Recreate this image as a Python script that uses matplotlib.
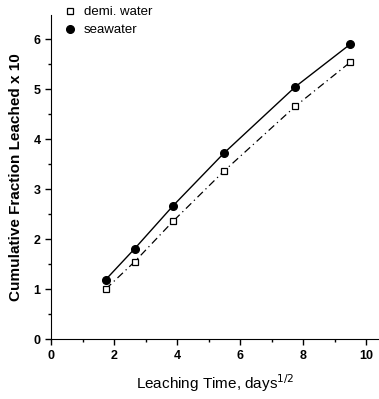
import matplotlib
matplotlib.use("Agg")
import matplotlib.pyplot as plt
from matplotlib.ticker import MultipleLocator

plt.rcParams['font.family'] = ['Liberation Sans', 'DejaVu Sans']

# sqrt of leaching time (days^1/2)
time_sqrt = [1.73, 2.65, 3.87, 5.48, 7.75, 9.49]
demi_water = [1.00, 1.55, 2.36, 3.36, 4.66, 5.54]
seawater = [1.19, 1.81, 2.67, 3.72, 5.05, 5.90]

fig = plt.figure(figsize=(3.79, 3.99), dpi=100)
ax = fig.add_axes([0.135, 0.150, 0.865, 0.812])

ax.plot(time_sqrt, demi_water, color='black', lw=0.9, ls=(0, (6, 3, 1, 3)))
ax.plot(time_sqrt, seawater, color='black', lw=1.0, ls='-')
ax.plot(time_sqrt, demi_water, 's', ms=4.5, mfc='white', mec='black', mew=0.9,
        ls='none', label='demi. water')
ax.plot(time_sqrt, seawater, 'o', ms=5.5, color='black', ls='none', label='seawater')

ax.set_xlim(0, 10.4)
ax.set_ylim(0, 6.48)
ax.xaxis.set_major_locator(MultipleLocator(2))
ax.xaxis.set_minor_locator(MultipleLocator(1))
ax.yaxis.set_major_locator(MultipleLocator(1))
ax.yaxis.set_minor_locator(MultipleLocator(0.5))
ax.tick_params(which='major', direction='out', length=4, width=1, labelsize=9)
ax.tick_params(which='minor', direction='out', length=2.5, width=1)
for lbl in ax.get_xticklabels() + ax.get_yticklabels():
    lbl.set_fontweight('bold')

ax.spines['top'].set_visible(False)
ax.spines['right'].set_visible(False)

ax.set_xlabel('Leaching Time, days$^{1/2}$', fontsize=11, labelpad=8)
ax.set_ylabel('Cumulative Fraction Leached x 10', fontsize=11, fontweight='bold',
              labelpad=8)

ax.legend(loc='upper left', bbox_to_anchor=(0.0, 1.065), frameon=False,
          fontsize=9.5, handletextpad=0.6, labelspacing=0.45, handlelength=1.0)

fig.savefig('out.png', dpi=100)
